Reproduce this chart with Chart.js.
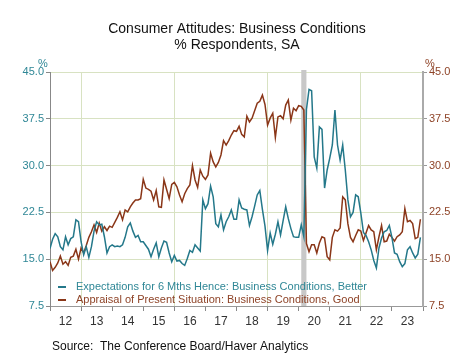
<!DOCTYPE html>
<html><head><meta charset="utf-8">
<script src="https://cdn.jsdelivr.net/npm/chart.js@4/dist/chart.umd.min.js"></script>
<style>html,body{margin:0;padding:0;background:#fff;}#wrap{width:474px;height:355px;}</style>
</head><body><div id="wrap"><canvas id="c" width="474" height="355"></canvas></div>
<script>
const titleLines = ['Consumer Attitudes: Business Conditions', '% Respondents, SA'];
const sourceText = 'Source:  The Conference Board/Haver Analytics';
const startYear = 2012;
const endYear = 2024;
const yearLabels = ['12','13','14','15','16','17','18','19','20','21','22','23'];
const gridYears = [2013, 2016, 2019, 2022];
const yTicks = [7.5, 15, 22.5, 30, 37.5, 45];
const recession = [[2020, 2], [2020, 4]];
const seriesNames = ['Expectations for 6 Mths Hence: Business Conditions, Better',
                     'Appraisal of Present Situation: Business Conditions, Good'];

const expectations = [
  16.7, 18.2, 19.1, 18.6, 17.0, 16.5, 18.6, 17.3, 18.3, 18.6, 21.3, 21.0,
  17.8, 15.7, 17.0, 15.3, 17.0, 19.5, 21.0, 20.5, 20.6, 18.6, 16.0, 17.0,
  17.3, 17.0, 17.1, 17.0, 17.3, 18.5, 20.2, 20.8, 19.5, 18.5, 18.8, 17.8,
  17.8, 17.2, 16.6, 15.4, 16.6, 17.6, 15.4, 16.8, 17.9, 17.7, 16.0, 14.6,
  15.6, 14.7, 14.8, 14.3, 14.0, 15.1, 16.4, 16.1, 17.3, 16.8, 16.3, 24.5,
  23.1, 23.9, 26.7, 25.0, 20.7, 20.2, 22.1, 19.7, 21.0, 21.8, 22.9, 21.4,
  21.4, 24.5, 23.2, 23.0, 22.9, 20.4, 21.8, 23.5, 25.3, 26.0, 23.0, 20.3,
  16.4, 19.2, 17.4, 19.0, 21.0, 18.9, 21.2, 23.4, 21.5, 19.9, 18.6, 18.5,
  18.5, 20.5, 18.6, 39.0, 42.2, 42.0, 31.4, 29.6, 36.2, 35.8, 26.4, 29.3,
  31.2, 33.3, 38.9, 33.3, 30.9, 33.3, 29.3, 24.5, 21.8, 22.5, 25.3, 25.0,
  22.4, 19.3, 18.8, 17.8, 16.5, 14.8, 13.6, 16.8, 18.4, 19.4, 19.6, 20.4,
  18.5, 16.0, 15.8, 14.6, 13.8, 14.3, 16.5, 17.0, 16.0, 15.2, 15.8, 18.5
];

const appraisal = [
  14.6, 13.2, 13.7, 14.4, 15.5, 14.2, 14.6, 14.0, 15.3, 15.5, 16.6, 15.0,
  16.8, 16.0, 17.2, 18.5, 19.4, 20.5, 19.3, 20.8, 19.5, 20.2, 19.6, 20.3,
  20.1, 20.9, 21.7, 22.6, 21.3, 22.9, 22.6, 23.4, 24.0, 24.5, 24.5, 24.7,
  27.8, 26.4, 26.2, 25.9, 24.5, 26.0, 23.4, 23.3, 27.7, 26.2, 24.7, 27.0,
  27.3, 26.6, 25.3, 24.2, 25.5, 26.3, 26.9, 30.0, 27.7, 26.5, 29.3, 28.3,
  27.8, 28.5, 32.0, 30.6, 29.8, 30.5, 31.7, 34.0, 33.3, 34.0, 34.9, 35.6,
  35.5, 36.3, 35.0, 34.6, 37.9, 37.0, 37.6, 38.8, 40.0, 40.3, 41.3, 39.8,
  36.5, 37.6, 38.4, 34.5, 37.8, 38.0, 37.5, 39.7, 40.5, 37.3, 39.2, 38.8,
  39.6, 39.5, 38.9, 17.5, 16.2, 17.3, 17.3, 16.0, 17.6, 18.6, 18.4, 15.4,
  14.9, 18.5, 19.7, 19.5, 20.0, 25.0, 24.5, 20.7, 18.5, 17.8, 18.8, 19.7,
  19.5, 18.0, 19.2, 20.4, 19.7, 19.4, 16.5, 18.6, 20.4, 17.8, 17.9, 19.0,
  18.5, 17.9, 18.6, 18.9, 19.4, 23.1, 21.0, 21.2, 20.7, 18.3, 18.5, 21.4
];

const TEAL = '#24788a', TEAL_TXT = '#2f8796';
const BROWN = '#8a3618', BROWN_TXT = '#8e4327';
const GRID = '#d8e2c2';
const FONT = '"Liberation Sans", Arial, sans-serif';

const toPoints = arr => arr.map((v, i) => ({ x: startYear + i / 12, y: v }));
const ym = ([y, m]) => y + (m - 1) / 12;

const decor = {
  id: 'decor',
  beforeDatasetsDraw(chart) {
    const { ctx, chartArea: a, scales: { x } } = chart;
    const x1 = x.getPixelForValue(ym(recession[0]));
    const x2 = x.getPixelForValue(ym(recession[1]));
    ctx.save();
    ctx.fillStyle = '#c8c8c8';
    ctx.fillRect(x1, a.top - 2, x2 - x1, a.bottom - a.top + 2);
    ctx.restore();
  },
  afterDraw(chart) {
    const { ctx, chartArea: a } = chart;
    ctx.save();
    ctx.fillStyle = '#111';
    ctx.textAlign = 'center';
    ctx.textBaseline = 'middle';
    ctx.font = '14px ' + FONT;
    ctx.fillText(titleLines[0], 237, 29);
    ctx.fillText(titleLines[1], 237, 45);
    ctx.font = '11px ' + FONT;
    ctx.fillStyle = TEAL_TXT;
    ctx.fillText('%', a.left - 7, 64);
    ctx.fillStyle = BROWN_TXT;
    ctx.fillText('%', a.right + 7, 64);
    ctx.textAlign = 'left';
    ctx.fillStyle = '#111';
    ctx.font = '12px ' + FONT;
    ctx.fillText(sourceText, 52, 347);
    ctx.font = '11px ' + FONT;
    const txtColors = [TEAL_TXT, BROWN_TXT];
    chart.data.datasets.forEach((ds, i) => {
      const yy = 287 + 13 * i;
      ctx.strokeStyle = ds.borderColor;
      ctx.lineWidth = 2;
      ctx.beginPath();
      ctx.moveTo(58, yy);
      ctx.lineTo(66, yy);
      ctx.stroke();
      ctx.fillStyle = txtColors[i];
      ctx.fillText(ds.label, 76, yy);
    });
    ctx.restore();
  }
};

new Chart(document.getElementById('c'), {
  type: 'line',
  data: {
    datasets: [
      { label: seriesNames[0], data: toPoints(expectations), borderColor: TEAL, borderWidth: 1.5, pointRadius: 0, yAxisID: 'y', tension: 0 },
      { label: seriesNames[1], data: toPoints(appraisal), borderColor: BROWN, borderWidth: 1.5, pointRadius: 0, yAxisID: 'y1', tension: 0 }
    ]
  },
  options: {
    responsive: false,
    animation: false,
    devicePixelRatio: 1,
    layout: { padding: { top: 72, left: 0, right: 0, bottom: 0 } },
    plugins: { legend: { display: false }, title: { display: false }, tooltip: { enabled: false } },
    scales: {
      x: {
        type: 'linear', min: startYear, max: endYear,
        afterFit(s) { s.height = 49; },
        afterBuildTicks(s) {
          const t = [];
          for (let y = startYear; y <= endYear; y++) t.push({ value: y });
          for (let y = startYear; y < endYear; y++) t.push({ value: y + 0.5 });
          t.sort((a, b) => a.value - b.value);
          s.ticks = t;
        },
        ticks: {
          autoSkip: false, maxRotation: 0, minRotation: 0, padding: 3,
          color: '#333', font: { family: FONT, size: 12 },
          callback(v) { return Number.isInteger(v) ? '' : yearLabels[Math.floor(v) - startYear]; }
        },
        grid: {
          color: c => (c.tick && gridYears.includes(c.tick.value)) ? GRID : 'rgba(0,0,0,0)',
          tickColor: c => (c.tick && Number.isInteger(c.tick.value)) ? '#888' : 'rgba(0,0,0,0)',
          tickLength: 5, lineWidth: 1
        },
        border: { color: '#999', width: 1 }
      },
      y: {
        position: 'left', min: 7.5, max: 45,
        afterFit(s) { s.width = 50; },
        afterBuildTicks(s) { s.ticks = yTicks.map(v => ({ value: v })); },
        ticks: { color: TEAL_TXT, font: { family: FONT, size: 11 }, padding: 2, callback: v => v.toFixed(1) },
        grid: { color: c => (c.tick && c.tick.value === 7.5) ? 'rgba(0,0,0,0)' : GRID, tickColor: '#888', tickLength: 4 },
        border: { color: '#888', width: 1 }
      },
      y1: {
        position: 'right', min: 7.5, max: 45,
        afterFit(s) { s.width = 51; },
        afterBuildTicks(s) { s.ticks = yTicks.map(v => ({ value: v })); },
        ticks: { color: BROWN_TXT, font: { family: FONT, size: 11 }, padding: 2, callback: v => v.toFixed(1) },
        grid: { drawOnChartArea: false, tickColor: '#999', tickLength: 4 },
        border: { color: '#aaa', width: 2 }
      }
    }
  },
  plugins: [decor]
});
</script></body></html>
